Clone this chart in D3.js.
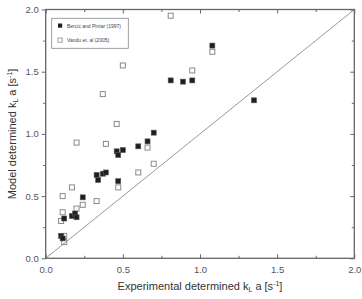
<!DOCTYPE html>
<html><head><meta charset="utf-8">
<script src="https://cdn.jsdelivr.net/npm/d3@7"></script>
<style>body{margin:0;background:#fff}svg{display:block}</style>
</head><body><svg id="c" width="362" height="299"></svg>
<script>
const seriesNames = ["Bercic and Pintar (1997)", "Vandu et. al (2005)"];
const bercicX = [1.08,0.81,0.89,0.95,1.35,0.70,0.66,0.60,0.50,0.46,0.47,0.33,0.34,0.37,0.39,0.47,0.24,0.17,0.19,0.20,0.12,0.10,0.11];
const bercicY = [1.71,1.43,1.42,1.43,1.27,1.01,0.94,0.90,0.87,0.86,0.83,0.67,0.63,0.68,0.69,0.62,0.49,0.34,0.36,0.33,0.32,0.18,0.16];
const vanduX = [0.81,1.08,0.95,0.50,0.37,0.46,0.20,0.39,0.66,0.70,0.60,0.47,0.33,0.17,0.11,0.24,0.20,0.11,0.10,0.12,0.12];
const vanduY = [1.95,1.66,1.51,1.55,1.32,1.08,0.93,0.92,0.89,0.76,0.69,0.57,0.46,0.57,0.50,0.43,0.40,0.37,0.30,0.18,0.13];
const majorTicks = [0, 0.5, 1.0, 1.5, 2.0];
const minorTicks = [0.25, 0.75, 1.25, 1.75];
const parity = [0, 2];

const svg = d3.select("#c");
const L = 45.7, R = 354.3, T = 9.5, B = 258.3;
const x = d3.scaleLinear().domain([0, 2]).range([L, R]);
const y = d3.scaleLinear().domain([0, 2]).range([B, T]);
const axisCol = "#666";
const FF = "Liberation Sans, Arial, sans-serif";

svg.append("line").attr("x1", x(parity[0])).attr("y1", y(parity[0]))
  .attr("x2", x(parity[1])).attr("y2", y(parity[1]))
  .attr("stroke", "#999").attr("stroke-width", 1);

function styleAxis(g) {
  g.select(".domain").remove();
  g.selectAll("line").attr("stroke", axisCol).attr("stroke-width", 1);
  g.selectAll("text").attr("fill", "#555").attr("font-family", FF).attr("font-size", "9.5px");
}
const fmt = d3.format(".1f");
svg.append("g").attr("transform", `translate(0,${B})`)
  .call(d3.axisBottom(x).tickValues(majorTicks).tickFormat(fmt).tickSizeInner(-4).tickSizeOuter(0).tickPadding(8)).call(styleAxis);
svg.append("g").attr("transform", `translate(0,${B})`)
  .call(d3.axisBottom(x).tickValues(minorTicks).tickFormat("").tickSizeInner(-2.5).tickSizeOuter(0)).call(styleAxis);
svg.append("g").attr("transform", `translate(${L},0)`)
  .call(d3.axisLeft(y).tickValues(majorTicks).tickFormat(fmt).tickSizeInner(4).tickSizeOuter(0).tickPadding(3)).call(styleAxis);
svg.append("g").attr("transform", `translate(${L},0)`)
  .call(d3.axisLeft(y).tickValues(minorTicks).tickFormat("").tickSizeInner(2.5).tickSizeOuter(0)).call(styleAxis);
svg.append("g").attr("transform", `translate(0,${T})`)
  .call(d3.axisTop(x).tickValues(majorTicks).tickFormat("").tickSizeInner(-4).tickSizeOuter(0)).call(styleAxis);
svg.append("g").attr("transform", `translate(0,${T})`)
  .call(d3.axisTop(x).tickValues(minorTicks).tickFormat("").tickSizeInner(-2.5).tickSizeOuter(0)).call(styleAxis);
svg.append("g").attr("transform", `translate(${R},0)`)
  .call(d3.axisRight(y).tickValues(majorTicks).tickFormat("").tickSizeInner(-4).tickSizeOuter(0)).call(styleAxis);
svg.append("g").attr("transform", `translate(${R},0)`)
  .call(d3.axisRight(y).tickValues(minorTicks).tickFormat("").tickSizeInner(-2.5).tickSizeOuter(0)).call(styleAxis);

svg.append("rect").attr("x", L).attr("y", T).attr("width", R - L).attr("height", B - T)
  .attr("fill", "none").attr("stroke", axisCol).attr("stroke-width", 1.3);

const S = 5;
svg.append("g").selectAll("rect").data(vanduX.map((v, i) => [v, vanduY[i]])).join("rect")
  .attr("x", d => x(d[0]) - S / 2).attr("y", d => y(d[1]) - S / 2)
  .attr("width", S).attr("height", S)
  .attr("fill", "none").attr("stroke", "#8a8a8a").attr("stroke-width", 1);
svg.append("g").selectAll("rect").data(bercicX.map((v, i) => [v, bercicY[i]])).join("rect")
  .attr("x", d => x(d[0]) - S / 2).attr("y", d => y(d[1]) - S / 2)
  .attr("width", S).attr("height", S)
  .attr("fill", "#1e1e1e").attr("stroke", "#555").attr("stroke-width", 0.6);

const lg = svg.append("g");
lg.append("rect").attr("x", 51.7).attr("y", 18.3).attr("width", 76.6).attr("height", 30)
  .attr("fill", "#fff").attr("stroke", "#888").attr("stroke-width", 0.8);
lg.append("rect").attr("x", 58).attr("y", 23.5).attr("width", 4.2).attr("height", 4.2).attr("fill", "#1e1e1e");
lg.append("rect").attr("x", 58).attr("y", 38).attr("width", 4.2).attr("height", 4.2).attr("fill", "none").attr("stroke", "#888").attr("stroke-width", 0.8);
lg.append("text").attr("x", 67).attr("y", 27.7).text(seriesNames[0])
  .attr("font-family", FF).attr("font-size", "5px").attr("fill", "#444");
lg.append("text").attr("x", 67).attr("y", 42.2).text(seriesNames[1])
  .attr("font-family", FF).attr("font-size", "5px").attr("fill", "#444");

function title(sel, main) {
  sel.append("tspan").text(main + " k");
  sel.append("tspan").text("L").attr("font-size", "7px").attr("dy", 2);
  sel.append("tspan").text(" a [s").attr("dy", -2);
  sel.append("tspan").text("-1").attr("font-size", "7px").attr("dy", -4);
  sel.append("tspan").text("]").attr("dy", 4);
}
const xt = svg.append("text").attr("x", 200).attr("y", 290).attr("text-anchor", "middle")
  .attr("font-family", FF).attr("font-size", "11px").attr("fill", "#333");
title(xt, "Experimental determined");
const yt = svg.append("text").attr("transform", `translate(16,${(T + B) / 2}) rotate(-90)`).attr("text-anchor", "middle")
  .attr("font-family", FF).attr("font-size", "11px").attr("fill", "#333");
title(yt, "Model determined");
</script></body></html>
